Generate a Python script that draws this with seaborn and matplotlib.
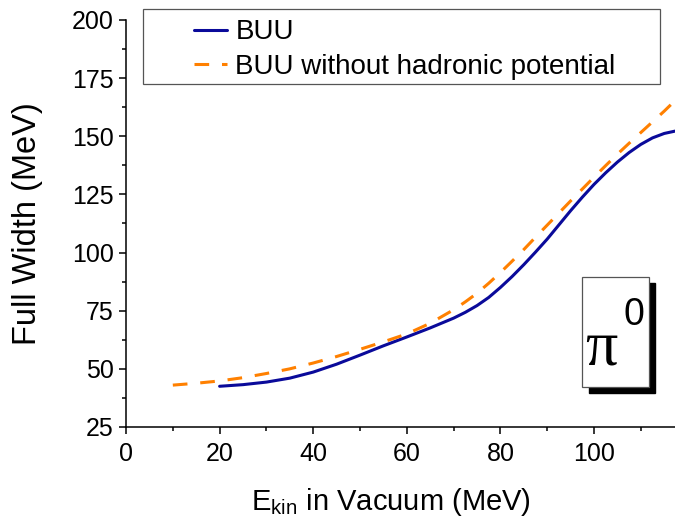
import matplotlib
matplotlib.use("Agg")
import matplotlib.pyplot as plt
from matplotlib.patches import Rectangle
import seaborn as sns
import pandas as pd

# Full width of the pi0 peak vs. kinetic energy in vacuum
buu_ekin = [20, 25, 30, 35, 40, 45, 50, 55, 60, 65, 70, 72.5, 75, 77.5, 80,
            82.5, 85, 87.5, 90, 92.5, 95, 97.5, 100, 102.5, 105, 107.5, 110,
            112.5, 115, 117.3]
buu_width = [42.5, 43.2, 44.3, 46.0, 48.6, 52.0, 55.9, 59.9, 63.7, 67.6,
             71.8, 74.3, 77.2, 80.7, 85.0, 89.7, 94.8, 100.2, 105.8, 111.9,
             118.0, 123.8, 129.3, 134.3, 138.9, 143.0, 146.5, 149.3, 151.2,
             152.2]

nopot_ekin = [10, 15, 20, 25, 30, 35, 40, 45, 50, 55, 60, 65, 70, 72.5, 75,
              77.5, 80, 82.5, 85, 87.5, 90, 92.5, 95, 97.5, 100, 102.5, 105,
              107.5, 110, 112.5, 115, 117.3]
nopot_width = [43.0, 43.8, 44.8, 46.2, 48.0, 50.0, 52.5, 55.3, 58.4, 61.6,
               65.0, 69.6, 75.4, 78.8, 82.5, 86.8, 91.4, 96.3, 101.3, 106.6,
               111.8, 117.0, 122.2, 127.3, 132.4, 137.4, 142.3, 147.0, 151.6,
               156.2, 160.8, 165.3]

series_labels = ["BUU", "BUU without hadronic potential"]
x_ticks = [0, 20, 40, 60, 80, 100]
y_ticks = [25, 50, 75, 100, 125, 150, 175, 200]

sns.set_theme(style="ticks")
plt.rcParams["font.family"] = ["Liberation Sans", "DejaVu Sans"]
plt.rcParams["mathtext.default"] = "regular"
for key in ("text.color", "axes.labelcolor", "xtick.color", "ytick.color",
            "axes.edgecolor"):
    plt.rcParams[key] = "black"

fig = plt.figure(figsize=(6.75, 5.25), dpi=100)
ax = fig.add_axes([0.1867, 0.1867, 0.8133, 0.7753])

df_buu = pd.DataFrame({"ekin": buu_ekin, "width": buu_width})
df_nopot = pd.DataFrame({"ekin": nopot_ekin, "width": nopot_width})

sns.lineplot(data=df_buu, x="ekin", y="width", ax=ax, color="#0a0a9a",
             lw=2.2, label=series_labels[0])
sns.lineplot(data=df_nopot, x="ekin", y="width", ax=ax, color="#ff8000",
             lw=2.2, label=series_labels[1])
ax.lines[1].set_dashes([4.8, 4.2])

ax.set_xlim(0, 117.3)
ax.set_ylim(25, 200)
ax.set_xticks(x_ticks)
ax.set_yticks(y_ticks)
ax.set_xticks([10, 30, 50, 70, 90, 110], minor=True)
ax.set_yticks([37.5, 62.5, 87.5, 112.5, 137.5, 162.5, 187.5], minor=True)
ax.tick_params(which="major", length=5, width=1.1, labelsize=18,
               color="black", labelcolor="black")
ax.tick_params(axis="x", which="major", pad=6)
ax.tick_params(axis="y", which="major", pad=4)
ax.tick_params(which="minor", length=3, width=1.1, color="black")
for side in ("top", "right"):
    ax.spines[side].set_visible(False)
for side in ("left", "bottom"):
    ax.spines[side].set_linewidth(1.1)
    ax.spines[side].set_color("black")

ax.set_xlabel("E$_{kin}$ in Vacuum (MeV)", fontsize=21, labelpad=14)
ax.xaxis.label.set_x(0.483)
ax.set_ylabel("Full Width (MeV)", fontsize=23.5)
ax.yaxis.set_label_coords(-0.152, 0.5)

# Legend with a separate frame rectangle
leg = ax.legend(loc="upper left", bbox_to_anchor=(0.287, 0.963),
                bbox_transform=fig.transFigure, frameon=False, fontsize=20,
                handlelength=1.2, handletextpad=0.3, labelspacing=0.3,
                borderpad=0.0, borderaxespad=0.0)
fig.add_artist(Rectangle((0.2119, 0.840), 0.7660, 0.143,
                         transform=fig.transFigure, fill=False,
                         edgecolor="#555555", lw=0.9, zorder=5))

# Particle label box with drop shadow
bx, by, bw, bh = 0.8622, 0.2629, 0.0988, 0.2095
fig.add_artist(Rectangle((bx + 0.0099, by - 0.0114), bw, bh,
                         transform=fig.transFigure, facecolor="black",
                         edgecolor="black", zorder=6))
fig.add_artist(Rectangle((bx, by), bw, bh, transform=fig.transFigure,
                         facecolor="white", edgecolor="#555555", lw=0.9,
                         zorder=7))
fig.text(bx + 0.005, by + 0.042, "\u03c0", fontsize=46,
         family=["Liberation Serif", "DejaVu Serif"], ha="left",
         va="baseline", zorder=8)
fig.text(bx + 0.061, by + 0.1175, "0", fontsize=27, ha="left",
         va="baseline", zorder=8)

fig.savefig("out.png", dpi=100)
